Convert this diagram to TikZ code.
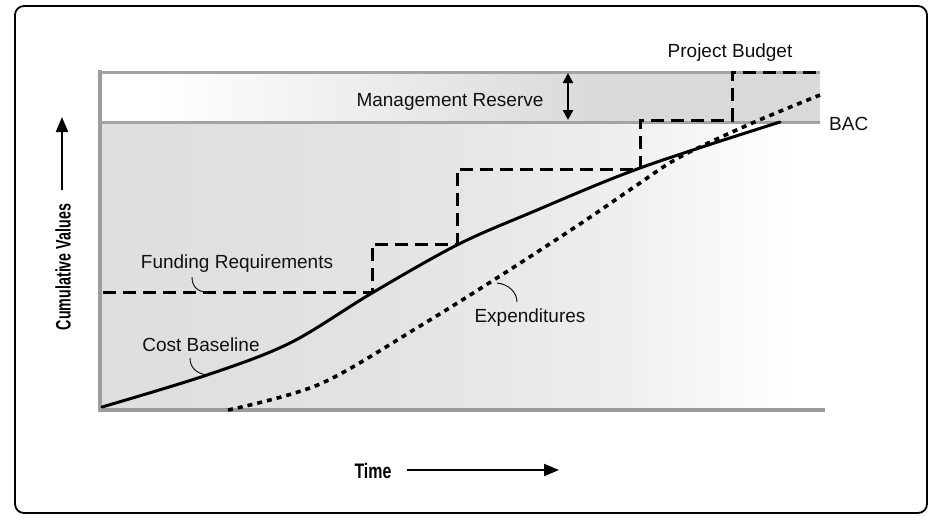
\documentclass[tikz,border=0pt]{standalone}
\usepackage{fontspec}
\usepackage{graphicx}
\setmainfont{Liberation Sans}
\newfontfamily\axisfont{Liberation Sans}[BoldFont={Liberation Sans Bold}]
\usetikzlibrary{arrows.meta}
\definecolor{txt}{HTML}{111111}
\definecolor{gridln}{HTML}{A3A3A3}
\definecolor{axisln}{HTML}{9C9C9C}
\definecolor{bandgrey}{HTML}{D9D9D9}
\definecolor{bandmid}{HTML}{EBEBEB}
\definecolor{lowgrey}{HTML}{DEDEDE}
\definecolor{lowmid}{HTML}{E3E3E3}
\definecolor{lowlight}{HTML}{EDEDED}
\pgfdeclarehorizontalshading{topband}{100bp}{color(0bp)=(white); color(29bp)=(white); color(45bp)=(bandmid); color(60bp)=(bandgrey); color(100bp)=(bandgrey)}
\pgfdeclarehorizontalshading{lowband}{100bp}{color(0bp)=(lowgrey); color(25bp)=(lowgrey); color(45bp)=(lowmid); color(60bp)=(lowlight); color(73bp)=(white); color(100bp)=(white)}
\tikzset{
  lbl/.style={font=\fontsize{19}{23}\selectfont, text=txt, inner sep=0pt},
  axlbl/.style={font=\axisfont\bfseries\fontsize{21}{25}\selectfont, text=black, inner sep=0pt},
  gline/.style={draw=gridln, line width=3pt},
  aline/.style={draw=axisln, line width=4.5pt},
  fundline/.style={draw=black, line width=3pt, dash pattern=on 13pt off 7pt},
  costline/.style={draw=black, line width=3pt, line cap=round},
  expline/.style={draw=black, line width=3.6pt, dash pattern=on 5pt off 5pt},
  leader/.style={draw=black, line width=0.9pt},
  axarrow/.style={draw=black, line width=2.2pt, -{Triangle[width=12pt,length=15pt]}},
  dblarrow/.style={draw=black, line width=2.5pt, {Triangle[width=10pt,length=10pt]}-{Triangle[width=10pt,length=10pt]}}
}
\begin{document}
\begin{tikzpicture}[x=1pt,y=-1pt]
\useasboundingbox (0,0) rectangle (932,515);
\fill[white] (0,0) rectangle (932,515);
% frame
\draw[black, line width=1.8pt, rounded corners=9pt] (15,6) rectangle (927,513);
% shaded regions
\shade[shading=topband] (100,72) rectangle (820,122);
\shade[shading=lowband] (100,122) rectangle (820,410);
% grid lines
\draw[gline] (100,72) -- (820,72);
\draw[gline] (100,122) -- (820,122);
\draw[aline] (100,70) -- (100,412);
\draw[aline] (98,410) -- (825,410);
% funding requirements
\draw[fundline] (103,292) -- (372,292) -- (372,244) -- (457,244) -- (457,169) -- (640,169) -- (640,120) -- (732,120) -- (732,72) -- (820,72);
% expenditures
\draw[expline] plot[smooth, tension=0.55] coordinates {(228,410) (320,384) (420,326) (500,276) (580,224) (637,185) (680,157) (750,124) (820,95)};
% cost baseline
\draw[costline] plot[smooth, tension=0.55] coordinates {(102,407) (207,375) (290,343) (372,293) (457,245) (530,213) (640,168) (780,122)};
% labels
\node[lbl] (pb) at (730,53) {Project Budget};
\node[lbl, anchor=west] (bac) at (829,124) {BAC};
\node[lbl] (mr) at (450,102) {Management Reserve};
\node[lbl] (fr) at (237,264) {Funding Requirements};
\node[lbl] (cb) at (201,345) {Cost Baseline};
\node[lbl] (ex) at (530,318) {Expenditures};
\node[axlbl, rotate=90] (cv) at (63,267) {\scalebox{0.68}[1]{Cumulative Values}};
\node[axlbl] (tm) at (373,471) {\scalebox{0.76}[1]{Time}};
% leaders
\coordinate (frs) at (192,277); \coordinate (fre) at (207,292);
\coordinate (cbs) at (190,358); \coordinate (cbe) at (208,375);
\coordinate (exs) at (497,283); \coordinate (exe) at (517,302);
\draw[leader] (frs) .. controls (192,287) and (198,292) .. (fre);
\draw[leader] (cbs) .. controls (190,368) and (197,374) .. (cbe);
\draw[leader] (exs) .. controls (508,284) and (517,292) .. (exe);
% arrows
\coordinate (cva) at (62,190); \coordinate (cvb) at (62,117);
\draw[axarrow] (cva) -- (cvb);
\coordinate (tma) at (407,470); \coordinate (tmb) at (559,470);
\draw[axarrow] (tma) -- (tmb);
\coordinate (mra) at (568,73); \coordinate (mrb) at (568,120);
\draw[dblarrow] (mra) -- (mrb);
\end{tikzpicture}
\end{document}
